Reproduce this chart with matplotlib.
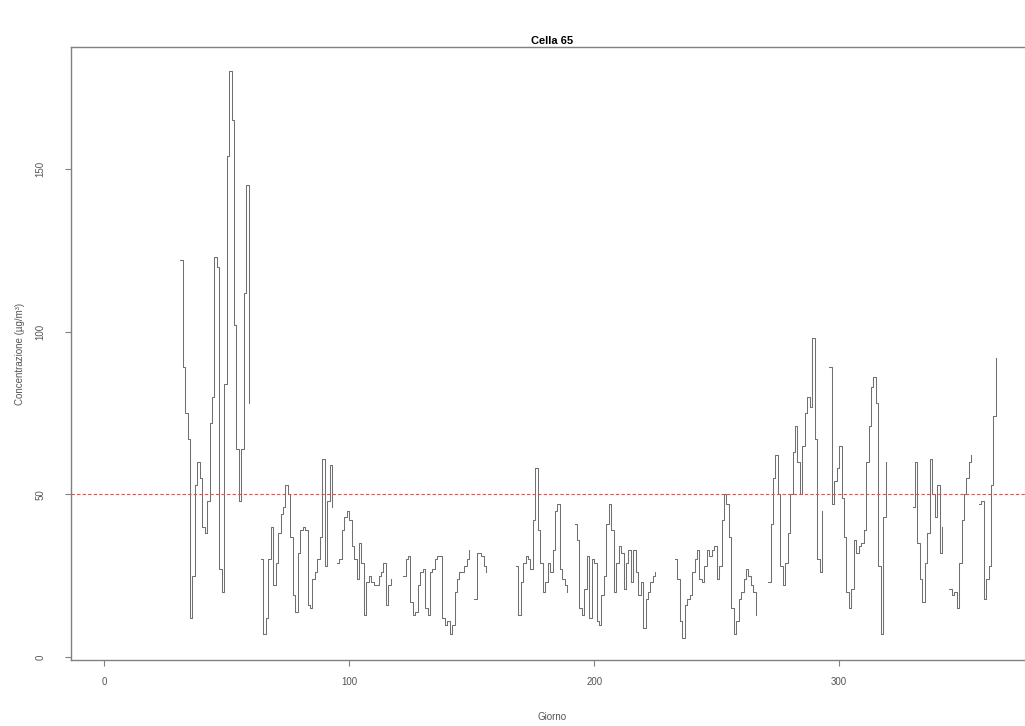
import matplotlib
matplotlib.use("Agg")
import matplotlib.pyplot as plt
import numpy as np

# daily concentration; gaps between segments are missing days
seg_starts = [31, 64, 95, 122, 151, 168, 192, 233, 271, 296, 330, 345, 357]
seg_values = [
    [122, 89, 75, 67, 12, 25, 53, 60, 55, 40, 38, 48, 72, 80, 123, 120, 27, 20,
     84, 154, 180, 165, 102, 64, 48, 64, 112, 145, 78],
    [30, 7, 12, 30, 40, 22, 29, 38, 44, 46, 53, 50, 37, 19, 14, 32, 39, 40, 39,
     16, 15, 24, 26, 30, 37, 61, 28, 48, 59, 46],
    [29, 30, 39, 43, 45, 42, 34, 30, 24, 35, 29, 13, 23, 25, 23, 22, 22, 25, 26,
     29, 16, 22, 24],
    [25, 30, 31, 17, 13, 14, 22, 26, 27, 15, 13, 26, 27, 30, 31, 31, 12, 10, 11,
     7, 10, 20, 24, 26, 26, 28, 30, 33],
    [18, 32, 32, 31, 28, 26],
    [28, 13, 23, 29, 31, 30, 27, 42, 58, 39, 29, 20, 23, 29, 26, 33, 45, 47, 27,
     24, 22, 20],
    [41, 36, 15, 13, 21, 31, 12, 30, 29, 11, 10, 19, 25, 41, 47, 39, 20, 29, 34,
     32, 21, 29, 33, 23, 33, 26, 19, 23, 9, 18, 20, 23, 25, 26],
    [30, 24, 11, 6, 16, 18, 19, 26, 30, 33, 24, 23, 28, 33, 31, 33, 34, 24, 28,
     42, 50, 47, 37, 15, 7, 11, 18, 20, 24, 27, 25, 22, 20, 13],
    [23, 41, 55, 62, 50, 28, 22, 29, 38, 50, 63, 71, 60, 50, 65, 75, 80, 77, 98,
     67, 30, 26, 45],
    [89, 47, 54, 58, 65, 49, 37, 20, 15, 21, 36, 32, 34, 35, 39, 60, 71, 83, 86,
     78, 28, 7, 43, 60],
    [46, 60, 35, 24, 17, 29, 38, 61, 50, 43, 53, 32, 40],
    [21, 19, 20, 15, 29, 42, 50, 55, 60, 62],
    [47, 48, 18, 24, 28, 53, 74, 92],
]
limit = 50
x_ticks = [0, 100, 200, 300]
y_ticks = [0, 50, 100, 150]

plt.rcParams['font.family'] = ['Liberation Sans', 'DejaVu Sans']

fig = plt.figure(figsize=(10.25, 7.26), dpi=100)
# plot box runs past the right edge of the picture, as in the reference
ax = fig.add_axes([71 / 1025, 1 - 660 / 726, (1034 - 71) / 1025, (660 - 47) / 726])

for start, vals in zip(seg_starts, seg_values):
    d = np.arange(start, start + len(vals))
    ax.step(d, vals, where='post', color='#707070', lw=0.75)

ax.axhline(limit, color='#ff4444', lw=0.8, dashes=(3, 2))

ax.set_xlim(-13.56, 379.56)
ax.set_ylim(-0.9, 187.5)
ax.set_xticks(x_ticks)
ax.set_yticks(y_ticks)
ax.set_yticklabels([str(v) for v in y_ticks], rotation=90, va='center')

for s in ax.spines.values():
    s.set_color('#808080')
    s.set_linewidth(1.0)
ax.tick_params(direction='out', length=4.5, width=0.8, color='#808080',
               labelsize=7, labelcolor='#555555')
ax.tick_params(axis='x', pad=7.5)
ax.tick_params(axis='y', pad=14)

ax.set_title('Cella 65', fontsize=8, fontweight='bold', pad=2)
ax.set_xlabel('Giorno', fontsize=7, color='#555555', labelpad=18.5)
ax.set_ylabel('Concentrazione (µg/m³)', fontsize=7, color='#555555', labelpad=7.5)

fig.savefig('out.png', dpi=100)
